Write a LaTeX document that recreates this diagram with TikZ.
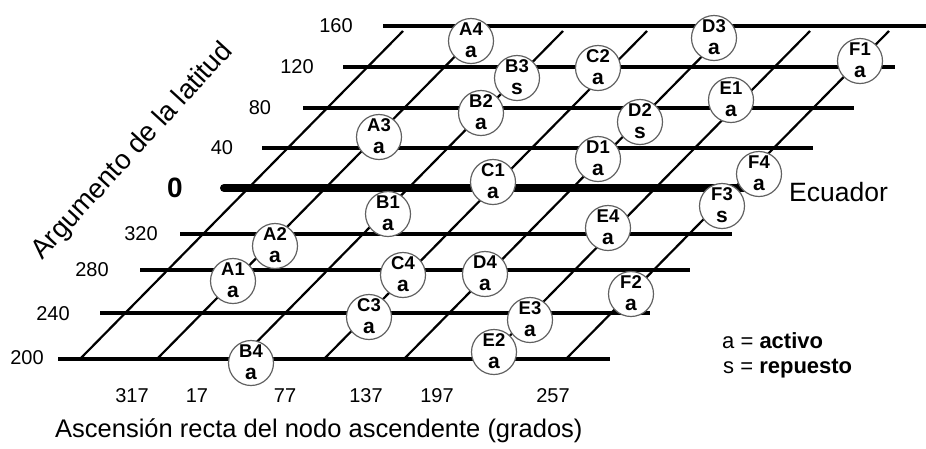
\documentclass[tikz,border=0pt]{standalone}
\usepackage{fontspec}
\setmainfont{Liberation Sans}
\begin{document}
\begin{tikzpicture}[x=1pt,y=-1pt,
  hline/.style={line width=4.2pt},
  eqline/.style={line width=8pt, line cap=round},
  dline/.style={line width=2.2pt},
  sat/.style={circle, draw=black!62, line width=1.2pt, fill=white, minimum size=45pt, inner sep=0pt},
  toplab/.style={font=\fontsize{18.5}{18.5}\selectfont\bfseries, anchor=base, inner sep=0pt},
  botlab/.style={font=\fontsize{21}{21}\selectfont\bfseries, anchor=base, inner sep=0pt},
  num/.style={font=\fontsize{20}{20}\selectfont, inner sep=0pt},
  big/.style={font=\fontsize{25.5}{25.5}\selectfont, inner sep=0pt},
  leg/.style={font=\fontsize{22}{22}\selectfont, anchor=base west, inner sep=0pt}
]
\useasboundingbox (0,0) rectangle (926,448);
% horizontal grid lines
\foreach \n/\y/\l/\r in {160/26/383/930, 120/67/343/895, 80/108/303/854, 40/148/262/813,
                         320/234/180/732, 280/270/140/690, 240/313/100/650, 200/359/58/610} {
  \coordinate (hL\n) at (\l,\y);
  \coordinate (hR\n) at (\r,\y);
  \draw[hline] (hL\n) -- (hR\n);
}
% equator
\coordinate (eqL) at (224,188);
\coordinate (eqR) at (745,188);
\draw[eqline] (eqL) -- (eqR);
% slanted lines
\foreach \k/\b in {1/80, 2/157, 3/240, 4/324, 5/404, 6/487, 7/566} {
  \coordinate (dB\k) at (\b,359);
  \coordinate (dT\k) at (\b+323,31);
  \draw[dline] (dB\k) -- (dT\k);
}
% satellites
\foreach \n/\s/\x/\y in {A1/a/233/281, A2/a/275/246, A3/a/379/137, A4/a/471/41,
                         B1/a/388/214, B2/a/481/113, B3/s/517/78, B4/a/251/363,
                         C1/a/493/182, C2/a/598/68, C3/a/369/317, C4/a/403/275,
                         D1/a/598/159, D2/s/640/122, D3/a/714/38, D4/a/485/274,
                         E1/a/731/100, E2/a/494/352, E3/a/530/320, E4/a/608/228,
                         F1/a/860/61, F2/a/631/294, F3/s/722/206, F4/a/759/174} {
  \node[sat] (\n) at (\x,\y) {};
  \node[toplab] (\n-t) at (\x,\y-5.5) {\n};
  \node[botlab] (\n-b) at (\x,\y+16) {\s};
}
% left axis numbers
\foreach \t/\x/\y in {160/336/26, 120/297/67, 80/260/108, 40/222/148,
                      320/141/234, 280/92/270, 240/53/314, 200/27/358} {
  \node[num] (l\t) at (\x,\y) {\t};
}
\node[font=\fontsize{28}{28}\selectfont\bfseries, inner sep=0pt] (l0) at (175,188) {0};
% bottom axis numbers
\foreach \t/\x in {317/132, 17/197, 77/285, 137/366, 197/437, 257/553} {
  \node[num, anchor=base] (b\t) at (\x,402) {\t};
}
% axis titles
\node[font=\fontsize{27.5}{27.5}\selectfont, inner sep=0pt, anchor=base, rotate=47.5] (ylab) at (138,156.5) {Argumento de la latitud};
\node[big, anchor=base west] (xlab) at (55,437) {Ascensión recta del nodo ascendente (grados)};
\node[font=\fontsize{26.5}{26.5}\selectfont, inner sep=0pt, anchor=west] (ecu) at (789,192) {Ecuador};
% legend
\node[leg] (leg1) at (722,348) {a = \textbf{activo}};
\node[leg] (leg2) at (723,373) {s = \textbf{repuesto}};
\end{tikzpicture}
\end{document}
